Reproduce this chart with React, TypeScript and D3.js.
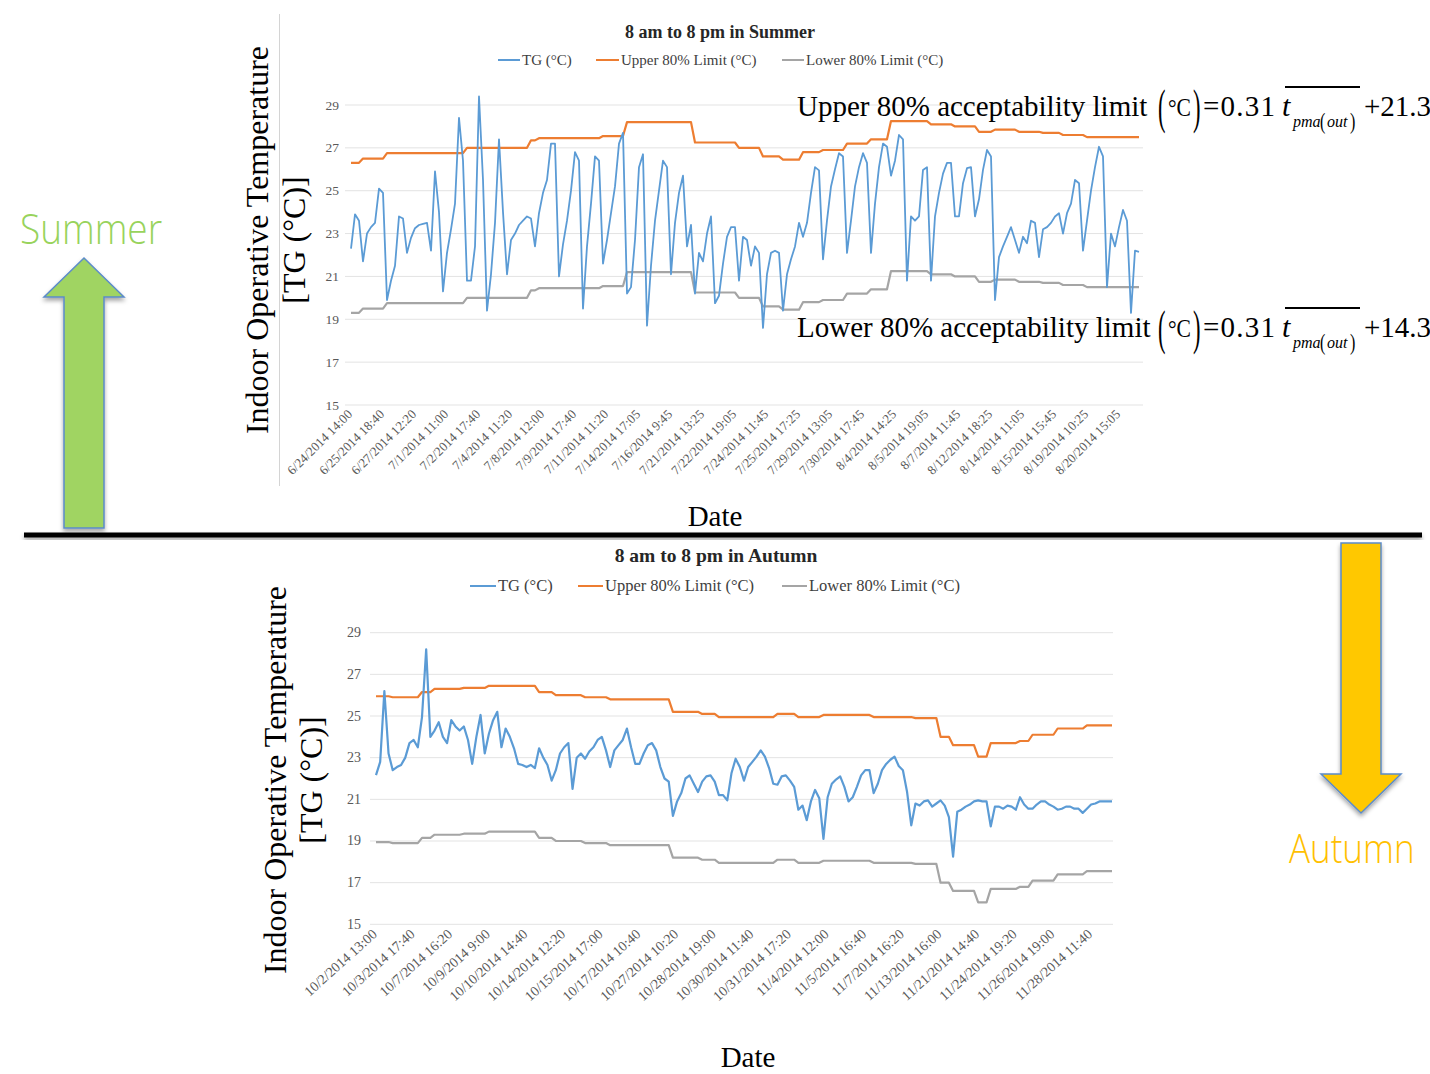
import React from "react";
import * as d3 from "d3";

// tick values shared by both charts
const yTicks = [15, 17, 19, 21, 23, 25, 27, 29];

const summerLabels = [
  "6/24/2014 14:00", "6/25/2014 18:40", "6/27/2014 12:20", "7/1/2014 11:00", "7/2/2014 17:40",
  "7/4/2014 11:20", "7/8/2014 12:00", "7/9/2014 17:40", "7/11/2014 11:20", "7/14/2014 17:05",
  "7/16/2014 9:45", "7/21/2014 13:25", "7/22/2014 19:05", "7/24/2014 11:45", "7/25/2014 17:25",
  "7/29/2014 13:05", "7/30/2014 17:45", "8/4/2014 14:25", "8/5/2014 19:05", "8/7/2014 11:45",
  "8/12/2014 18:25", "8/14/2014 11:05", "8/15/2014 15:45", "8/19/2014 10:25", "8/20/2014 15:05",
];

// TG readings, summer (one value per plotted sample)
const summerTG = [
  22.3, 23.9, 23.6, 21.7, 23.0, 23.3, 23.5, 25.1, 24.9, 19.9,
  20.8, 21.5, 23.8, 23.7, 22.1, 22.8, 23.25, 23.4, 23.45, 23.5,
  22.2, 25.9, 24.0, 20.3, 22.1, 23.2, 24.4, 28.4, 26.4, 20.8,
  20.8, 22.4, 29.4, 25.5, 19.4, 21.1, 23.5, 27.4, 24.0, 21.1,
  22.7, 23.0, 23.4, 23.6, 23.8, 23.7, 22.4, 23.95, 24.9, 25.5,
  27.2, 27.2, 21.0, 22.5, 23.6, 25.0, 26.8, 26.4, 19.5, 22.4,
  24.4, 26.6, 26.4, 21.6, 22.7, 23.95, 25.2, 27.2, 27.7, 20.2,
  20.5, 22.7, 26.1, 26.7, 18.7, 21.5, 23.6, 25.0, 26.4, 26.1,
  21.1, 23.5, 24.9, 25.7, 22.4, 23.4, 20.2, 22.1, 21.7, 23.0,
  23.8, 19.75, 20.1, 21.6, 22.85, 23.3, 23.3, 20.8, 22.85, 22.7,
  21.5, 22.4, 22.1, 18.6, 21.1, 22.1, 22.2, 22.1, 19.4, 21.1,
  21.8, 22.4, 23.5, 22.85, 23.5, 24.9, 26.1, 25.95, 21.8, 23.6,
  25.2, 26.0, 26.75, 26.6, 22.1, 23.6, 25.2, 26.1, 26.75, 26.3,
  22.1, 24.4, 26.1, 27.2, 27.05, 25.7, 26.4, 27.6, 27.4, 20.8,
  23.8, 23.6, 23.8, 25.97, 26.1, 20.8, 23.8, 24.9, 25.8, 26.3,
  26.3, 23.8, 23.8, 25.35, 26.05, 26.1, 23.8, 24.6, 25.97, 26.9,
  26.6, 19.9, 21.9, 22.4, 22.85, 23.3, 22.7, 22.1, 22.85, 22.55,
  23.6, 23.5, 21.9, 23.2, 23.3, 23.5, 23.8, 23.95, 23.0, 23.95,
  24.4, 25.5, 25.35, 22.2, 23.6, 25.0, 26.1, 27.05, 26.6, 20.5,
  23.0, 22.4, 23.3, 24.1, 23.6, 19.3, 22.2, 22.15,
];

// limits are flat for several samples at a time: [number of samples, value]
const summerUpperRuns: [number, number][] = [
  [3, 26.3], [6, 26.5], [20, 26.75], [16, 27.0], [2, 27.35], [16, 27.45], [6, 27.55],
  [17, 28.2], [11, 27.25], [6, 27.0], [5, 26.6], [5, 26.45], [5, 26.8], [6, 26.9],
  [6, 27.2], [5, 27.4], [10, 28.25], [6, 28.1], [6, 28.0], [4, 27.75], [6, 27.85],
  [6, 27.75], [5, 27.7], [6, 27.6], [14, 27.5],
];
const summerLowerRuns: [number, number][] = [
  [3, 19.3], [6, 19.5], [20, 19.75], [16, 20.0], [2, 20.35], [16, 20.45], [6, 20.55],
  [17, 21.2], [11, 20.25], [6, 20.0], [5, 19.6], [5, 19.45], [5, 19.8], [6, 19.9],
  [6, 20.2], [5, 20.4], [10, 21.25], [6, 21.1], [6, 21.0], [4, 20.75], [6, 20.85],
  [6, 20.75], [5, 20.7], [6, 20.6], [14, 20.5],
];

const autumnLabels = [
  "10/2/2014 13:00", "10/3/2014 17:40", "10/7/2014 16:20", "10/9/2014 9:00", "10/10/2014 14:40",
  "10/14/2014 12:20", "10/15/2014 17:00", "10/17/2014 10:40", "10/27/2014 10:20", "10/28/2014 19:00",
  "10/30/2014 11:40", "10/31/2014 17:20", "11/4/2014 12:00", "11/5/2014 16:40", "11/7/2014 16:20",
  "11/13/2014 16:00", "11/21/2014 14:40", "11/24/2014 19:20", "11/26/2014 19:00", "11/28/2014 11:40",
];

const autumnTG = [
  22.16, 22.8, 26.2, 23.2, 22.4, 22.55, 22.65, 23.0, 23.7, 23.85,
  23.5, 24.95, 28.2, 24.0, 24.3, 24.7, 24.0, 23.7, 24.8, 24.5,
  24.3, 24.5, 23.85, 22.7, 24.0, 25.05, 23.2, 24.15, 24.8, 25.2,
  23.5, 24.4, 24.0, 23.45, 22.7, 22.65, 22.55, 22.65, 22.5, 23.45,
  23.0, 22.65, 21.9, 22.4, 23.2, 23.5, 23.7, 21.5, 23.0, 23.2,
  22.95, 23.3, 23.5, 23.85, 24.0, 23.35, 22.55, 23.35, 23.6, 23.85,
  24.4, 23.5, 22.7, 22.7, 23.2, 23.6, 23.7, 23.35, 22.55, 22.0,
  21.85, 20.2, 20.9, 21.3, 22.0, 22.15, 21.75, 21.35, 21.85, 22.1,
  22.15, 21.85, 21.2, 21.2, 20.95, 22.25, 22.95, 22.55, 21.9, 22.55,
  22.8, 23.05, 23.35, 23.05, 22.5, 21.75, 21.7, 22.1, 22.15, 21.9,
  21.6, 20.5, 20.7, 20.0, 20.9, 21.45, 21.05, 19.1, 21.1, 21.75,
  21.95, 22.1, 21.6, 20.9, 21.1, 21.6, 22.15, 22.4, 22.4, 21.3,
  21.75, 22.4, 22.7, 22.9, 23.05, 22.6, 22.4, 21.35, 19.75, 20.8,
  20.7, 20.9, 20.95, 20.65, 20.8, 20.95, 20.7, 20.15, 18.25, 20.4,
  20.5, 20.65, 20.75, 20.9, 20.95, 20.9, 20.9, 19.7, 20.65, 20.65,
  20.55, 20.7, 20.65, 20.5, 21.1, 20.75, 20.55, 20.55, 20.75, 20.9,
  20.9, 20.75, 20.65, 20.5, 20.55, 20.65, 20.65, 20.55, 20.55, 20.35,
  20.55, 20.75, 20.8, 20.9, 20.9, 20.9, 20.9,
];

const autumnUpperRuns: [number, number][] = [
  [4, 25.95], [7, 25.9], [3, 26.15], [7, 26.3], [6, 26.35], [12, 26.45], [4, 26.15],
  [7, 26.0], [6, 25.9], [15, 25.8], [7, 25.2], [4, 25.1], [14, 24.95], [5, 25.1],
  [6, 24.95], [12, 25.05], [10, 24.95], [6, 24.9], [3, 24.0], [6, 23.6], [3, 23.05],
  [7, 23.7], [3, 23.8], [6, 24.1], [7, 24.4], [7, 24.55],
];
const autumnLowerRuns: [number, number][] = [
  [4, 18.95], [7, 18.9], [3, 19.15], [7, 19.3], [6, 19.35], [12, 19.45], [4, 19.15],
  [7, 19.0], [6, 18.9], [15, 18.8], [7, 18.2], [4, 18.1], [14, 17.95], [5, 18.1],
  [6, 17.95], [12, 18.05], [10, 17.95], [6, 17.9], [3, 17.0], [6, 16.6], [3, 16.05],
  [7, 16.7], [3, 16.8], [6, 17.1], [7, 17.4], [7, 17.55],
];

const legendNames = ["TG (°C)", "Upper 80% Limit (°C)", "Lower 80% Limit (°C)"];
const colors = ["#5B9BD5", "#ED7D31", "#A5A5A5"];

const serif = "'Liberation Serif', 'Times New Roman', serif";
const thinSans = "'Open Sans', Lato, sans-serif";

function expand(runs: [number, number][]) {
  return runs.flatMap(([n, v]) => Array(n).fill(v));
}

function Chart({ cfg }: { cfg: any }) {
  const n = cfg.tg.length;
  const x = d3.scaleLinear().domain([0, n - 1]).range(cfg.xRange);
  const y = d3.scaleLinear().domain([15, 29]).range(cfg.yRange);
  const line = d3
    .line<number>()
    .x((_, i) => x(i))
    .y((d) => y(d));
  const series = [cfg.tg, expand(cfg.upper), expand(cfg.lower)];

  return (
    <g>
      <text x={cfg.titleX} y={cfg.titleY} textAnchor="middle" fontFamily={serif} fontWeight="bold" fontSize={cfg.titleSize} fill="#262626">
        {cfg.title}
      </text>
      {legendNames.map((name, k) => (
        <g key={name}>
          <line x1={cfg.legend[k][0]} x2={cfg.legend[k][1]} y1={cfg.legendY} y2={cfg.legendY} stroke={colors[k]} strokeWidth={2} />
          <text x={cfg.legend[k][1] + 2} y={cfg.legendY + 5} fontFamily={serif} fontSize={cfg.legendSize} fill="#404040">
            {name}
          </text>
        </g>
      ))}
      {yTicks.map((t) => (
        <g key={t}>
          <line x1={cfg.gridX[0]} x2={cfg.gridX[1]} y1={y(t)} y2={y(t)} stroke="#e3e3e3" strokeWidth={1} />
          <text x={cfg.tickX} y={y(t) + 4.5} textAnchor="end" fontFamily={serif} fontSize={cfg.tickSize} fill="#595959">
            {t}
          </text>
        </g>
      ))}
      {cfg.labels.map((lab: string, j: number) => (
        <text
          key={lab}
          transform={`translate(${x(j * cfg.labelStep) + 2},${cfg.yRange[0] + cfg.labelDy}) rotate(${cfg.labelAngle})`}
          textAnchor="end"
          fontFamily={serif}
          fontSize={cfg.labelSize}
          fill="#595959"
        >
          {lab}
        </text>
      ))}
      {[2, 1, 0].map((k) => (
        <path key={k} d={line(series[k]) || ""} fill="none" stroke={colors[k]} strokeWidth={k === 0 ? cfg.tgWidth : 2.2} strokeLinejoin="round" />
      ))}
      <text transform={`translate(${cfg.axisTitleX[0]},${cfg.axisTitleY}) rotate(-90)`} textAnchor="middle" fontFamily={serif} fontSize={32}>
        Indoor Operative Temperature
      </text>
      <text transform={`translate(${cfg.axisTitleX[1]},${cfg.axisTitleY}) rotate(-90)`} textAnchor="middle" fontFamily={serif} fontSize={32}>
        [TG (°C)]
      </text>
      <text x={cfg.dateX} y={cfg.dateY} textAnchor="middle" fontFamily={serif} fontSize={29}>
        Date
      </text>
    </g>
  );
}

function Equation({ x, y, label, constant }: { x: number; y: number; label: string; constant: string }) {
  return (
    <g fontFamily={serif} fill="#000">
      <text x={x} y={y} fontSize={29}>{label}</text>
      <text transform={`translate(${x + 361},${y + 7}) scale(0.75,1.6)`} fontSize={30}>(</text>
      <text x={x + 371} y={y} fontSize={26} textLength={23} lengthAdjust="spacingAndGlyphs">°C</text>
      <text transform={`translate(${x + 396},${y + 7}) scale(0.75,1.6)`} fontSize={30}>)</text>
      <text x={x + 406} y={y} fontSize={29} textLength={72} lengthAdjust="spacing">=0.31</text>
      <text x={x + 485} y={y} fontSize={30} fontStyle="italic">t</text>
      <line x1={x + 488} x2={x + 563} y1={y - 29} y2={y - 29} stroke="#000" strokeWidth={2} />
      <text x={x + 496} y={y + 11} fontSize={16} fontStyle="italic">pma</text>
      <text transform={`translate(${x + 523},${y + 13}) scale(0.8,1.2)`} fontSize={20}>(</text>
      <text x={x + 530} y={y + 11} fontSize={16} fontStyle="italic">out</text>
      <text transform={`translate(${x + 553},${y + 13}) scale(0.8,1.2)`} fontSize={20}>)</text>
      <text x={x + 567} y={y} fontSize={29}>+{constant}</text>
    </g>
  );
}

const summerCfg = {
  title: "8 am to 8 pm in Summer",
  tg: summerTG,
  upper: summerUpperRuns,
  lower: summerLowerRuns,
  labels: summerLabels,
  labelStep: 8,
  xRange: [351, 1139],
  yRange: [405, 105],
  gridX: [345, 1143],
  tickX: 339,
  tickSize: 13.5,
  labelSize: 13,
  labelDy: 10,
  labelAngle: -45,
  titleX: 720,
  titleY: 38,
  titleSize: 18,
  legendY: 60,
  legendSize: 15,
  legend: [[498, 520], [596, 619], [782, 804]],
  tgWidth: 1.8,
  axisTitleX: [268, 305],
  axisTitleY: 240,
  dateX: 715,
  dateY: 526,
};

const autumnCfg = {
  title: "8 am to 8 pm in Autumn",
  tg: autumnTG,
  upper: autumnUpperRuns,
  lower: autumnLowerRuns,
  labels: autumnLabels,
  labelStep: 9,
  xRange: [376, 1112],
  yRange: [924.3, 632.7],
  gridX: [370, 1113],
  tickX: 361,
  tickSize: 14,
  labelSize: 14,
  labelDy: 11,
  labelAngle: -42,
  titleX: 716,
  titleY: 562,
  titleSize: 19.5,
  legendY: 586,
  legendSize: 16.5,
  legend: [[470, 496], [578, 603], [782, 807]],
  tgWidth: 2.2,
  axisTitleX: [286, 322],
  axisTitleY: 780,
  dateX: 748,
  dateY: 1067,
};

export default function App() {
  return (
    <svg width={1430} height={1074} style={{ position: "absolute", left: 0, top: 0, display: "block", background: "#fff" }}>
      <defs>
        <filter id="shadow" x="-20%" y="-20%" width="140%" height="160%">
          <feDropShadow dx="0" dy="3" stdDeviation="2" floodColor="#000" floodOpacity="0.35" />
        </filter>
      </defs>
      <rect width={1430} height={1074} fill="#fff" />
      <line x1={279.5} x2={279.5} y1={14} y2={486} stroke="#d4d4d4" strokeWidth={1} />
      <Chart cfg={summerCfg} />
      <Chart cfg={autumnCfg} />
      <Equation x={797} y={116} label="Upper 80% acceptability limit" constant="21.3" />
      <Equation x={797} y={337} label="Lower 80% acceptability limit" constant="14.3" />
      <rect x={24} y={532.5} width={1398} height={5} fill="#000" filter="url(#shadow)" />
      <polygon
        points="64,528 64,297 44,297 84,258 124,297 104,297 104,528"
        fill="#A0D462"
        stroke="#5B8BC9"
        strokeWidth={1.5}
        filter="url(#shadow)"
      />
      <polygon
        points="1341,543 1381,543 1381,774 1401,774 1361,813 1321,774 1341,774"
        fill="#FFC800"
        stroke="#5B8BC9"
        strokeWidth={1.5}
        filter="url(#shadow)"
      />
      <text transform="translate(20,244) scale(1,1.15)" fontFamily={thinSans} fontWeight={300} fontSize={37} fill="#98D35C">
        Summer
      </text>
      <text transform="translate(1289,863) scale(1,1.15)" fontFamily={thinSans} fontWeight={300} fontSize={35} fill="#FFC000">
        Autumn
      </text>
    </svg>
  );
}
